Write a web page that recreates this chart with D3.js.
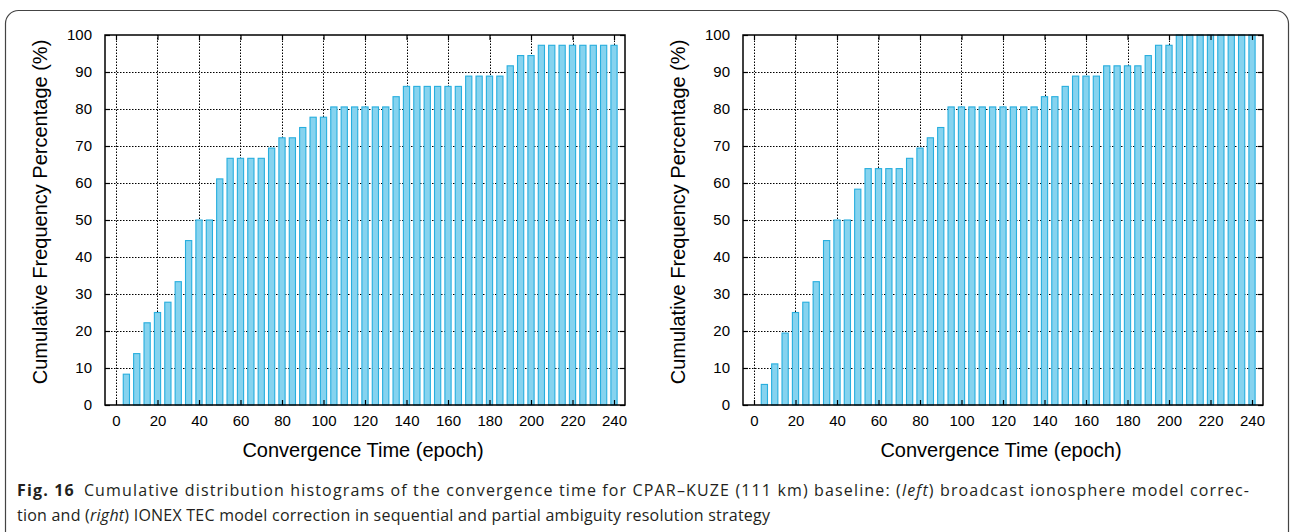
<!DOCTYPE html>
<html>
<head>
<meta charset="utf-8">
<script src="https://cdn.jsdelivr.net/npm/d3@7"></script>
<style>
  body { margin: 0; background: #fff; }
  svg { display: block; }
</style>
</head>
<body>
<div id="vis"></div>
<script>
// epochs of the bars (5, 10, ... 240)
var epochs = [5, 10, 15, 20, 25, 30, 35, 40, 45, 50, 55, 60, 65, 70, 75, 80,
    85, 90, 95, 100, 105, 110, 115, 120, 125, 130, 135, 140, 145, 150, 155, 160,
    165, 170, 175, 180, 185, 190, 195, 200, 205, 210, 215, 220, 225, 230, 235, 240];

// left: broadcast ionosphere model correction
var broadcastPct = [8.33, 13.89, 22.22, 25.00, 27.78, 33.33, 44.44, 50.00, 50.00, 61.11,
    66.67, 66.67, 66.67, 66.67, 69.44, 72.22, 72.22, 75.00, 77.78, 77.78,
    80.56, 80.56, 80.56, 80.56, 80.56, 80.56, 83.33, 86.11, 86.11, 86.11,
    86.11, 86.11, 86.11, 88.89, 88.89, 88.89, 88.89, 91.67, 94.44, 94.44,
    97.22, 97.22, 97.22, 97.22, 97.22, 97.22, 97.22, 97.22];

// right: IONEX TEC model correction
var ionexPct = [5.56, 11.11, 19.44, 25.00, 27.78, 33.33, 44.44, 50.00, 50.00, 58.33,
    63.89, 63.89, 63.89, 63.89, 66.67, 69.44, 72.22, 75.00, 80.56, 80.56,
    80.56, 80.56, 80.56, 80.56, 80.56, 80.56, 80.56, 83.33, 83.33, 86.11,
    88.89, 88.89, 88.89, 91.67, 91.67, 91.67, 91.67, 94.44, 97.22, 97.22,
    100, 100, 100, 100, 100, 100, 100, 100];

var xTicks = [0, 20, 40, 60, 80, 100, 120, 140, 160, 180, 200, 220, 240];
var yTicks = [0, 10, 20, 30, 40, 50, 60, 70, 80, 90, 100];

var xTitle = 'Convergence Time (epoch)';
var yTitle = 'Cumulative Frequency Percentage (%)';

var width = 1290;
var height = 532;

var svg = d3.select('#vis').append('svg')
    .attr('width', width)
    .attr('height', height);

// rahmen um die ganze figur
svg.append('rect')
    .attr('x', 5.5).attr('y', 10.5)
    .attr('width', 1283).attr('height', 560)
    .attr('rx', 13).attr('ry', 13)
    .attr('fill', 'none')
    .attr('stroke', '#444')
    .attr('stroke-width', 1.2);

var plotW = 520, plotH = 370, plotTop = 35;

function drawPanel(left, values) {
    var x = d3.scaleLinear().domain([-5.3, 245.3]).range([left, left + plotW]);
    var y = d3.scaleLinear().domain([0, 100]).range([plotTop + plotH, plotTop]);
    var g = svg.append('g');
    var font = 'Liberation Sans, Arial, sans-serif';

    // gitterlinien
    g.selectAll('.gx').data(xTicks).enter().append('line')
        .attr('x1', function (d) { return Math.round(x(d)) + 0.5; })
        .attr('x2', function (d) { return Math.round(x(d)) + 0.5; })
        .attr('y1', y(0)).attr('y2', y(100))
        .attr('stroke', '#000').attr('stroke-width', 1)
        .attr('stroke-dasharray', '1.5,1.5');
    g.selectAll('.gy').data(yTicks.slice(1, -1)).enter().append('line')
        .attr('y1', function (d) { return Math.round(y(d)) + 0.5; })
        .attr('y2', function (d) { return Math.round(y(d)) + 0.5; })
        .attr('x1', x.range()[0]).attr('x2', x.range()[1])
        .attr('stroke', '#000').attr('stroke-width', 1)
        .attr('stroke-dasharray', '1.5,1.5');

    // balken
    var bw = x(3) - x(0);
    g.selectAll('.bar').data(values).enter().append('rect')
        .attr('x', function (d, i) { return x(epochs[i]) - bw / 2; })
        .attr('y', function (d) { return y(d); })
        .attr('width', bw)
        .attr('height', function (d) { return y(0) - y(d); })
        .attr('fill', '#86d3ef')
        .attr('stroke', '#27aede')
        .attr('stroke-width', 1.1);

    // achsen mit ticks nach innen, auch oben und rechts
    g.append('g').attr('transform', 'translate(0,' + y(0) + ')')
        .call(d3.axisBottom(x).tickValues(xTicks).tickSizeInner(-5).tickSizeOuter(0).tickPadding(10))
        .call(function (s) { s.select('.domain').remove(); });
    g.append('g').attr('transform', 'translate(0,' + y(100) + ')')
        .call(d3.axisTop(x).tickValues(xTicks).tickSizeInner(-5).tickSizeOuter(0).tickFormat(''))
        .call(function (s) { s.select('.domain').remove(); });
    g.append('g').attr('transform', 'translate(' + x.range()[0] + ',0)')
        .call(d3.axisLeft(y).tickValues(yTicks).tickSizeInner(-5).tickSizeOuter(0).tickPadding(13))
        .call(function (s) { s.select('.domain').remove(); });
    g.append('g').attr('transform', 'translate(' + x.range()[1] + ',0)')
        .call(d3.axisRight(y).tickValues(yTicks).tickSizeInner(-5).tickSizeOuter(0).tickFormat(''))
        .call(function (s) { s.select('.domain').remove(); });

    g.selectAll('.tick line').attr('stroke', '#000').attr('stroke-width', 1.2);
    g.selectAll('.tick text')
        .attr('font-family', font)
        .attr('font-size', 15)
        .attr('fill', '#000');

    // rahmen des plots
    g.append('rect')
        .attr('x', x.range()[0]).attr('y', plotTop)
        .attr('width', plotW).attr('height', plotH)
        .attr('fill', 'none')
        .attr('stroke', '#000')
        .attr('stroke-width', 1.5);

    // achsentitel
    g.append('text')
        .attr('x', left + plotW / 2 - 2).attr('y', 457)
        .attr('text-anchor', 'middle')
        .attr('font-family', font)
        .attr('font-size', 20)
        .text(xTitle);
    g.append('text')
        .attr('transform', 'translate(' + (left - 58) + ',' + 212 + ') rotate(-90)')
        .attr('text-anchor', 'middle')
        .attr('font-family', font)
        .attr('font-size', 20)
        .text(yTitle);
}

drawPanel(105, broadcastPct);
drawPanel(743, ionexPct);

// bildunterschrift
var capFont = 'Liberation Sans Narrow, Open Sans, sans-serif';
var cap1 = svg.append('text')
    .attr('x', 17).attr('y', 496)
    .attr('font-family', capFont)
    .attr('font-size', 16)
    .attr('fill', '#231f20')
    .attr('textLength', 1232)
    .attr('lengthAdjust', 'spacing');
cap1.append('tspan').attr('font-weight', 'bold').text('Fig. 16');
cap1.append('tspan').text('\u2002Cumulative distribution histograms of the convergence time for CPAR\u2013KUZE (111\u00a0km) baseline: (');
cap1.append('tspan').attr('font-style', 'italic').text('left');
cap1.append('tspan').text(') broadcast ionosphere model correc-');

var cap2 = svg.append('text')
    .attr('x', 17).attr('y', 521)
    .attr('font-family', capFont)
    .attr('font-size', 16)
    .attr('fill', '#231f20')
    .attr('textLength', 753)
    .attr('lengthAdjust', 'spacing');
cap2.append('tspan').text('tion and (');
cap2.append('tspan').attr('font-style', 'italic').text('right');
cap2.append('tspan').text(') IONEX TEC model correction in sequential and partial ambiguity resolution strategy');
</script>
</body>
</html>
